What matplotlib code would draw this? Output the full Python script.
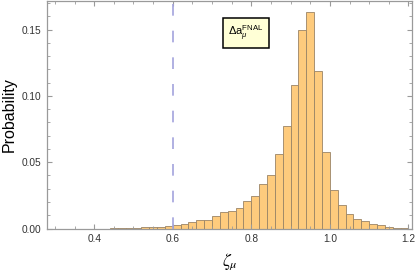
import numpy as np
import matplotlib.pyplot as plt
from matplotlib.ticker import MultipleLocator

# Datos del histograma (bins de ancho 0.02, desde 0.44)
bin_start = 0.44
bin_width = 0.02
probability = [0.0003, 0.0003, 0.0004, 0.0005, 0.0008, 0.0011, 0.0015, 0.0022,
               0.0029, 0.0037, 0.0048, 0.0064, 0.0065, 0.0094, 0.0124, 0.0131,
               0.0155, 0.0205, 0.0243, 0.0333, 0.0402, 0.0565, 0.0773, 0.1085,
               0.150, 0.163, 0.1188, 0.058, 0.0289, 0.0176, 0.0108, 0.0068,
               0.0053, 0.0032, 0.0023, 0.0013, 0.0006, 0.0005]
zeta_cut = 0.6
legend_label = r'$\mathrm{\Delta a}_{\mu}^{\mathrm{FNAL}}$'

edges = bin_start + bin_width * np.arange(len(probability))

plt.rcParams['font.family'] = ['Liberation Sans', 'DejaVu Sans']
plt.rcParams['mathtext.fontset'] = 'custom'
plt.rcParams['mathtext.rm'] = 'Liberation Sans'
plt.rcParams['mathtext.it'] = 'Liberation Sans:italic'

fig = plt.figure(figsize=(4.15, 2.73), dpi=100)
ax = fig.add_axes([0.1133, 0.163, 0.8795, 0.833])

ax.bar(edges, probability, width=bin_width, align='edge',
       color='#fecb7d', edgecolor='#9a8466', linewidth=0.6)

# Linea vertical discontinua
ax.axvline(zeta_cut, color='#a3a3dd', lw=1.2, dashes=(7, 9), zorder=3)

ax.set_xlim(0.28, 1.209)
ax.set_ylim(0, 0.1716)

ax.xaxis.set_major_locator(MultipleLocator(0.2))
ax.xaxis.set_minor_locator(MultipleLocator(0.05))
ax.yaxis.set_major_locator(MultipleLocator(0.05))
ax.yaxis.set_minor_locator(MultipleLocator(0.01))
ax.xaxis.set_major_formatter(plt.FuncFormatter(lambda v, p: f'{v:.1f}'))
ax.yaxis.set_major_formatter(plt.FuncFormatter(lambda v, p: f'{v:.2f}'))

for s in ax.spines.values():
    s.set_color('#9a9a9a')
    s.set_linewidth(0.9)
ax.tick_params(which='both', direction='in', top=True, right=True,
               color='#9a9a9a', labelsize=7.3, labelcolor='#333333')
ax.tick_params(which='major', length=3.4, width=0.8, pad=4)
ax.tick_params(which='minor', length=2.0, width=0.6)

ax.set_ylabel('Probability', fontsize=11.5, labelpad=4)
ax.set_xlabel(r'$\zeta_\mu$', fontsize=12.5, math_fontfamily='stix', labelpad=5)

ax.text(0.545, 0.86, legend_label, transform=ax.transAxes, fontsize=8,
        ha='center', va='center',
        bbox=dict(boxstyle='square,pad=0.45', facecolor='#ffffd6',
                  edgecolor='black', linewidth=1.1))

fig.savefig('out.png', dpi=100)
